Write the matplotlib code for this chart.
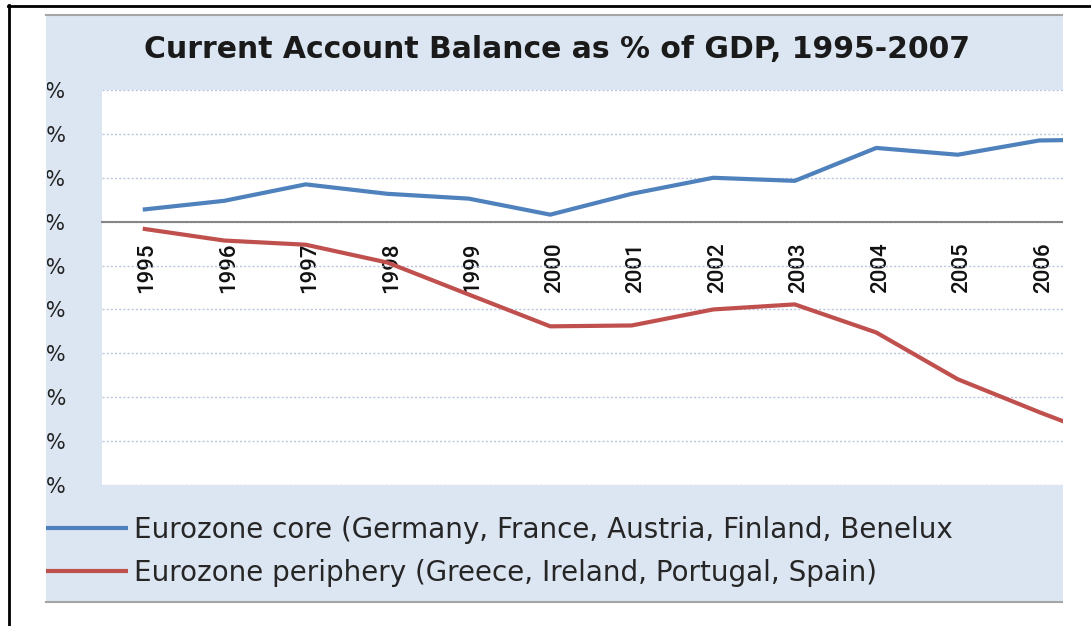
import matplotlib
matplotlib.use("Agg")
import matplotlib.pyplot as plt
from matplotlib.patches import Rectangle
from matplotlib.lines import Line2D
from matplotlib.transforms import Bbox, TransformedBbox, ScaledTranslation

# current account balance, % of GDP
years = [str(y) for y in range(1995, 2008)]
core = [0.55, 0.95, 1.7, 1.27, 1.05, 0.32, 1.27, 2.0, 1.86, 3.36, 3.05, 3.7, 3.75]
periphery = [-0.32, -0.86, -1.05, -1.86, -3.32, -4.77, -4.73, -4.0, -3.77,
             -5.05, -7.18, -8.68, -10.1]
y_ticks = [6, 4, 2, 0, -2, -4, -6, -8, -10, -12]
series_names = [
    "Eurozone core (Germany, France, Austria, Finland, Benelux",
    "Eurozone periphery (Greece, Ireland, Portugal, Spain)",
]
title = "Current Account Balance as % of GDP, 1995-2007"

W, H = 1091, 626
CAT_PX = 81.5  # width of one category in pixels


def fx(px):
    return px / W


def fy(py):
    return 1 - py / H


fig = plt.figure(figsize=(W / 100, H / 100), dpi=100, facecolor="white")

# light blue chart panel (cropped on the right in the original screenshot)
panel = Rectangle((fx(46), fy(602)), fx(1063) - fx(46), fy(15) - fy(602),
                  transform=fig.transFigure, facecolor="#dce6f2",
                  edgecolor="none", zorder=-5)
fig.add_artist(panel)
for py in (15, 602):
    fig.add_artist(Line2D([fx(46), fx(1063)], [fy(py), fy(py)], color="#a5a5a5",
                          lw=1.5, transform=fig.transFigure, zorder=-4))

ax_left, ax_right = 102, 1063
ax = fig.add_axes([fx(ax_left), fy(485), (ax_right - ax_left) / W, (485 - 90) / H])
ax.set_facecolor("white")

x = list(range(len(years)))
line_core, = ax.plot(x, core, color="#4f81bd", lw=3, solid_joinstyle="round",
                     solid_capstyle="butt")
line_peri, = ax.plot(x, periphery, color="#c0504d", lw=3, solid_joinstyle="round",
                     solid_capstyle="butt")

# the view stops part way between 2006 and 2007, as in the cropped original
ax.set_xlim(-0.5, -0.5 + (ax_right - ax_left) / CAT_PX)
ax.set_ylim(-12, 6)
ax.set_yticks(y_ticks, [f"{v}%" for v in y_ticks])
ax.set_xticks(x[:-1], years[:-1])
ax.grid(axis="y", color="#b8c6e0", ls=(0, (1.5, 1.5)), lw=1)
ax.set_axisbelow(True)

for side in ("left", "right", "top"):
    ax.spines[side].set_visible(False)
ax.spines["bottom"].set_position(("data", 0))
ax.spines["bottom"].set_color("#868686")
ax.spines["bottom"].set_linewidth(1.5)

ax.tick_params(axis="x", length=0, pad=15, labelrotation=90, labelsize=16,
               labelcolor="#111111")
shift = ScaledTranslation(4 / 100, 0, fig.dpi_scale_trans)
for lbl in ax.get_xticklabels():
    lbl.set_fontfamily(["Roboto", "DejaVu Sans"])
    lbl.set_fontweight("medium")
    lbl.set_transform(lbl.get_transform() + shift)

ax.tick_params(axis="y", length=0, pad=26, labelsize=15, labelcolor="#222222")
clip = TransformedBbox(Bbox.from_extents(fx(47), 0, 1, 1), fig.transFigure)
for lbl in ax.get_yticklabels():
    lbl.set_clip_on(True)
    lbl.set_clip_box(clip)

ax.legend([line_core, line_peri], series_names, loc="upper left",
          bbox_to_anchor=(fx(46), fy(516)), bbox_transform=fig.transFigure,
          frameon=False, fontsize=20, labelcolor="#262626", handlelength=2.95,
          handletextpad=0.22, labelspacing=0.53, borderpad=0, borderaxespad=0)

fig.text(fx(557), fy(50), title, ha="center", va="center", fontsize=21.5,
         fontweight="bold", color="#1a1a1a")

# screenshot crop: white strip on the right and black frame
fig.add_artist(Rectangle((fx(1063), 0), 1 - fx(1063), fy(8), transform=fig.transFigure,
                         facecolor="white", edgecolor="none", zorder=5))
fig.add_artist(Line2D([fx(8.5), fx(8.5)], [0, fy(5)], color="black", lw=2,
                      transform=fig.transFigure, zorder=6))
fig.add_artist(Line2D([fx(7.5), 1], [fy(6), fy(6)], color="black", lw=2,
                      transform=fig.transFigure, zorder=6))

fig.savefig("out.png", dpi=100, facecolor="white")
